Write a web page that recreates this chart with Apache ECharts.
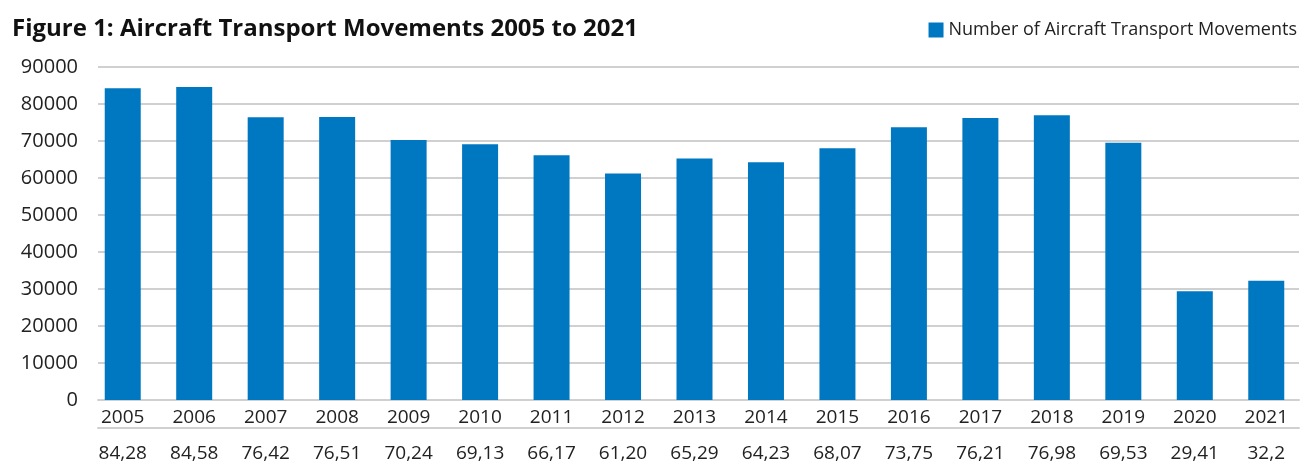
<!DOCTYPE html>
<html>
<head>
<meta charset="utf-8">
<script src="https://cdn.jsdelivr.net/npm/echarts@6/dist/echarts.min.js"></script>
<style>
  html, body { margin: 0; padding: 0; background: #fff; }
  #chart { width: 1302px; height: 463px; }
</style>
</head>
<body>
<div id="chart"></div>
<script>
// Aircraft transport movements per year
const years = ['2005','2006','2007','2008','2009','2010','2011','2012','2013','2014','2015','2016','2017','2018','2019','2020','2021'];
const movements = [84280, 84580, 76420, 76510, 70240, 69130, 66170, 61200, 65290, 64230, 68070, 73750, 76210, 76980, 69530, 29410, 32200];
// Value row printed beneath the year labels
const valueLabels = ['84,28','84,58','76,42','76,51','70,24','69,13','66,17','61,20','65,29','64,23','68,07','73,75','76,21','76,98','69,53','29,41','32,2'];
const yTicks = { min: 0, max: 90000, interval: 10000 };

const FONT = '"Open Sans", "Noto Sans", sans-serif';
const GRID_GREY = '#d0d0d0';
const BAR_BLUE = '#0078c1';

const chart = echarts.init(document.getElementById('chart'), null, { renderer: 'canvas' });

chart.setOption({
  animation: false,
  title: {
    text: 'Figure 1: Aircraft Transport Movements 2005 to 2021',
    left: 7, top: 12,
    textStyle: { fontFamily: FONT, fontWeight: 'bold', fontSize: 24, color: '#111' }
  },
  legend: {
    right: 0, top: 16,
    itemWidth: 15, itemHeight: 15, itemGap: 8,
    icon: 'rect',
    textStyle: { fontFamily: FONT, fontSize: 18, color: '#222' },
    data: ['Number of Aircraft Transport Movements']
  },
  grid: [
    // bars
    { left: 87, right: 0, top: 67, bottom: 63 },
    // value scale, gridlines and rules
    { left: 98, right: 3, top: 67, bottom: 63 }
  ],
  xAxis: [
    {
      gridIndex: 0, type: 'category', data: years,
      axisLine: { show: false }, axisTick: { show: false },
      axisLabel: { fontFamily: FONT, fontSize: 19, color: '#222', margin: 8 }
    },
    {
      gridIndex: 0, type: 'category', data: valueLabels, position: 'bottom', offset: 28,
      axisLine: { show: false }, axisTick: { show: false },
      axisLabel: { fontFamily: FONT, fontSize: 19, color: '#222', margin: 16 }
    },
    {
      gridIndex: 1, type: 'value', min: 0, max: 1, position: 'bottom',
      axisLine: { show: true, lineStyle: { color: GRID_GREY, width: 2 } },
      axisTick: { show: false }, axisLabel: { show: false }, splitLine: { show: false }
    },
    {
      gridIndex: 1, type: 'value', min: 0, max: 1, position: 'bottom', offset: 28,
      axisLine: { show: true, lineStyle: { color: GRID_GREY, width: 2 } },
      axisTick: { show: false }, axisLabel: { show: false }, splitLine: { show: false }
    }
  ],
  yAxis: [
    {
      gridIndex: 0, type: 'value', min: yTicks.min, max: yTicks.max, interval: yTicks.interval,
      show: false
    },
    {
      gridIndex: 1, type: 'value', min: yTicks.min, max: yTicks.max, interval: yTicks.interval,
      axisLine: { show: false }, axisTick: { show: false },
      axisLabel: {
        fontFamily: FONT, fontSize: 20, color: '#222', margin: 20,
        formatter: (v) => String(v)
      },
      splitLine: { lineStyle: { color: GRID_GREY, width: 2 } }
    }
  ],
  series: [
    {
      name: 'Number of Aircraft Transport Movements',
      type: 'bar',
      xAxisIndex: 0, yAxisIndex: 0,
      data: movements,
      barWidth: 36,
      itemStyle: { color: BAR_BLUE },
      z: 3
    }
  ]
});
</script>
</body>
</html>
